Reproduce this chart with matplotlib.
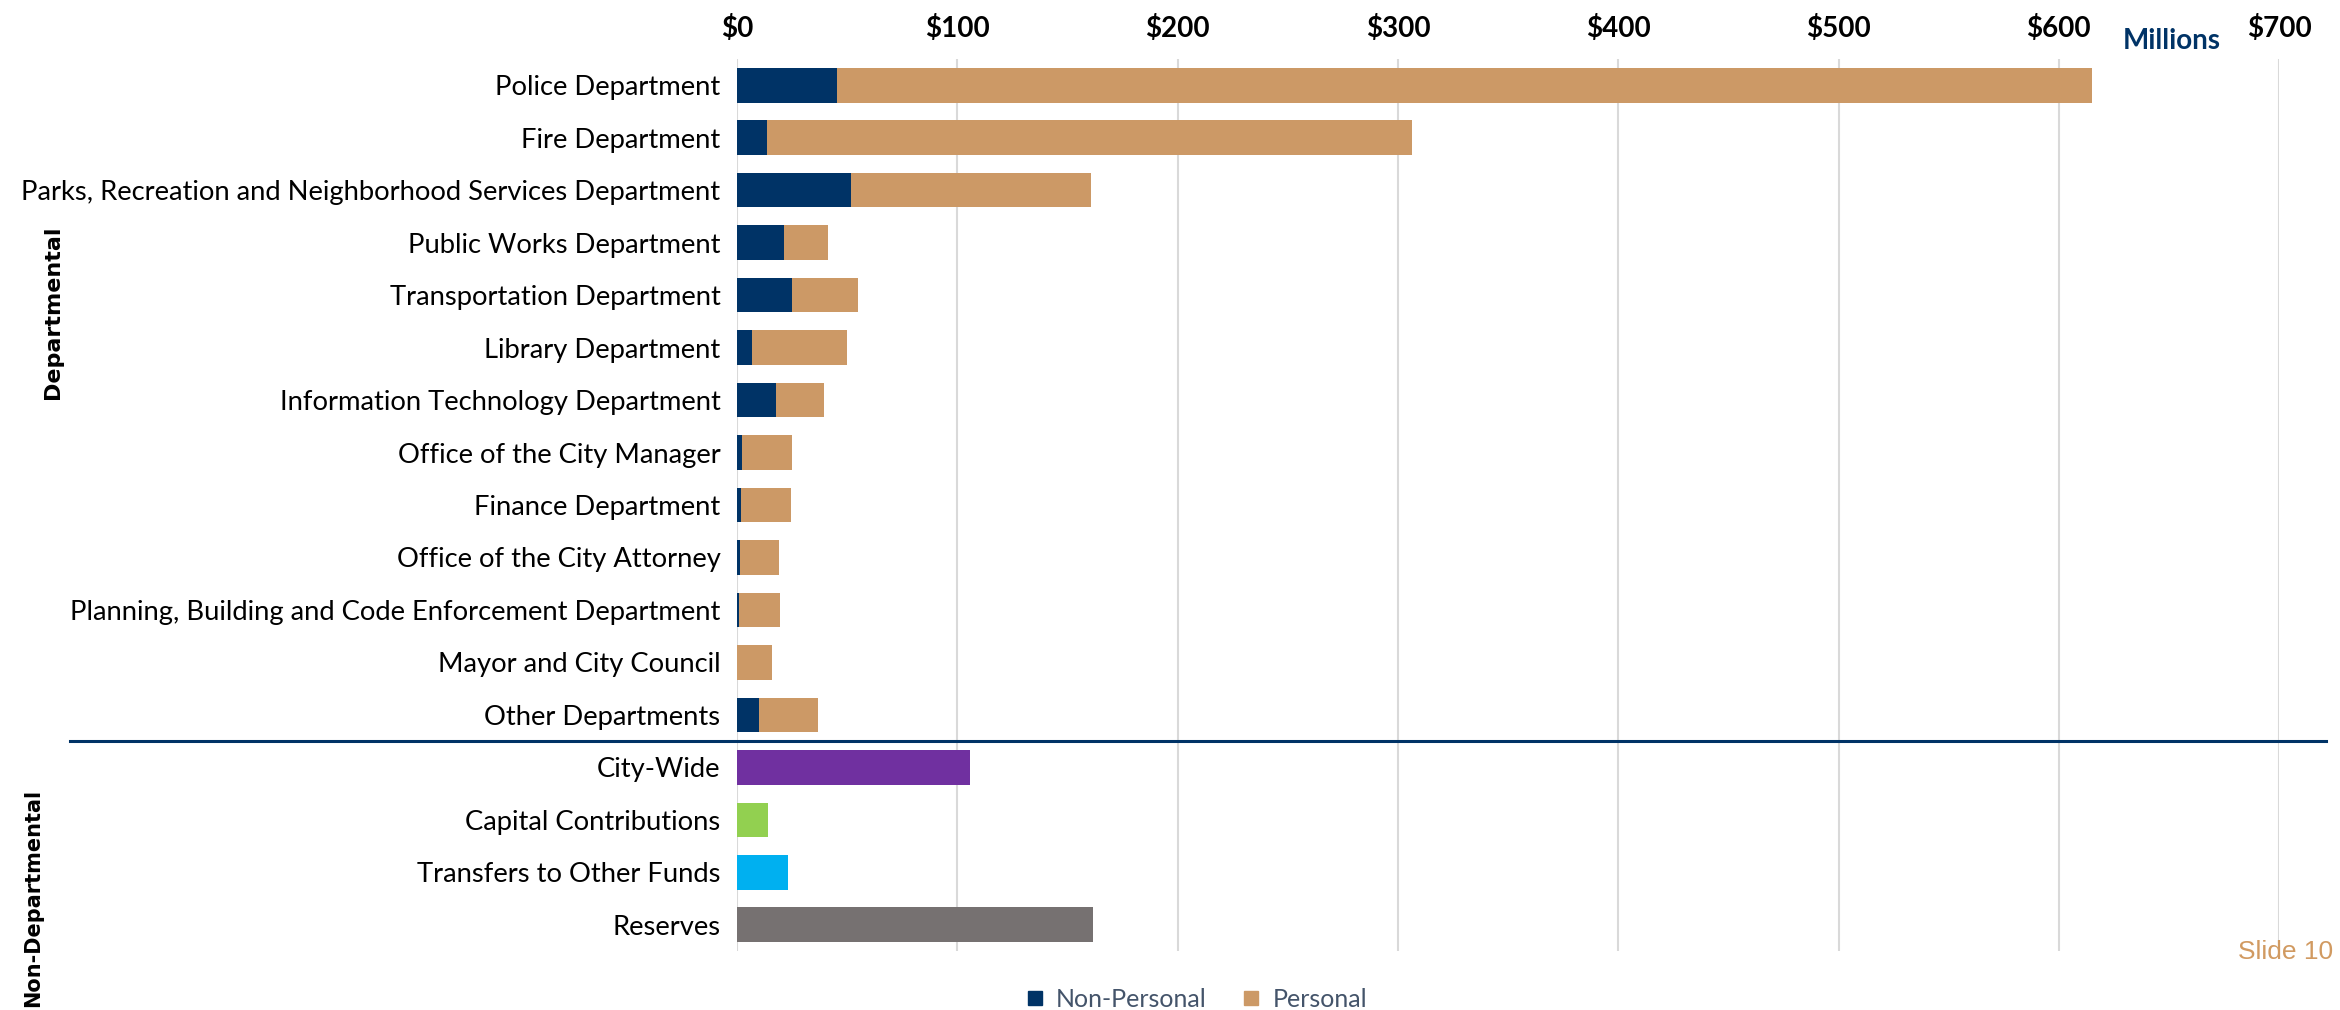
import matplotlib.pyplot as plt
from matplotlib.lines import Line2D

# values in $ millions
departments = ['Police Department', 'Fire Department',
               'Parks, Recreation and Neighborhood Services Department',
               'Public Works Department', 'Transportation Department',
               'Library Department', 'Information Technology Department',
               'Office of the City Manager', 'Finance Department',
               'Office of the City Attorney',
               'Planning, Building and Code Enforcement Department',
               'Mayor and City Council', 'Other Departments']
non_personal = [45.4, 13.4, 51.5, 21.4, 25.0, 6.8, 17.7, 2.1, 1.6, 1.2, 0.8, 0.0, 10.1]
personal = [569.8, 292.8, 109.2, 19.9, 29.8, 43.1, 21.9, 22.7, 23.0, 17.9, 18.9, 15.8, 26.7]

non_departmental = ['City-Wide', 'Capital Contributions', 'Transfers to Other Funds', 'Reserves']
non_dept_values = [105.6, 14.2, 23.3, 161.4]
non_dept_colors = ['#7030A0', '#92D050', '#00B0F0', '#767171']

x_ticks = [0, 100, 200, 300, 400, 500, 600, 700]
x_tick_labels = ['$0', '$100', '$200', '$300', '$400', '$500', '$600', '$700']

navy = '#003366'
tan = '#CC9966'
font = 'Lato'

fig = plt.figure(figsize=(23.4, 10.1), dpi=100)
ax = fig.add_axes([0.315, 0.0584, 0.659, 0.8832])

n_dep = len(departments)
dep_pos = list(range(n_dep))
non_pos = list(range(n_dep, n_dep + len(non_departmental)))

ax.barh(dep_pos, non_personal, height=0.66, color=navy, zorder=3)
ax.barh(dep_pos, personal, left=non_personal, height=0.66, color=tan, zorder=3)
ax.barh(non_pos, non_dept_values, height=0.66, color=non_dept_colors, zorder=3)

ax.set_ylim(n_dep + len(non_departmental) - 0.5, -0.5)
ax.set_xlim(0, 700)
ax.set_yticks(dep_pos + non_pos)
ax.set_yticklabels(departments + non_departmental, fontsize=19.7, family=font)
ax.xaxis.tick_top()
ax.set_xticks(x_ticks)
ax.set_xticklabels(x_tick_labels, fontsize=20, fontweight='bold', family=font)
ax.tick_params(axis='both', length=0)
ax.tick_params(axis='x', pad=12)
ax.tick_params(axis='y', pad=12)
ax.grid(axis='x', color='#D9D9D9', linewidth=1.5, zorder=0)
for s in ax.spines.values():
    s.set_visible(False)

# separator between the two groups
sep_y = ax.transData.transform((0, n_dep - 0.5))[1] / fig.bbox.height
fig.add_artist(Line2D([0.03, 0.994], [sep_y, sep_y], color=navy, linewidth=2.2))

fig.text(0.0228, 0.691, 'Departmental', rotation=90, fontsize=16, fontweight='bold',
         ha='center', va='center', family='DejaVu Sans')
fig.text(0.014, 0.111, 'Non-Departmental', rotation=90, fontsize=15, fontweight='bold',
         ha='center', va='center', family='DejaVu Sans')
fig.text(0.928, 0.959, 'Millions', fontsize=20, fontweight='bold', color=navy,
         ha='center', va='center', family=font)
fig.text(0.997, 0.057, 'Slide 10', fontsize=19, color='#D19A61',
         ha='right', va='center', family='Liberation Sans')

handles = [Line2D([], [], marker='s', linestyle='none', color=navy, markersize=10),
           Line2D([], [], marker='s', linestyle='none', color=tan, markersize=10)]
leg = fig.legend(handles, ['Non-Personal', 'Personal'], loc='center',
                 bbox_to_anchor=(0.511, 0.0105), ncol=2, frameon=False,
                 handlelength=0.8, handletextpad=0.44, columnspacing=1.4,
                 prop={'family': font, 'size': 18})
for t in leg.get_texts():
    t.set_color('#44546A')

fig.savefig('out.png', dpi=100)
